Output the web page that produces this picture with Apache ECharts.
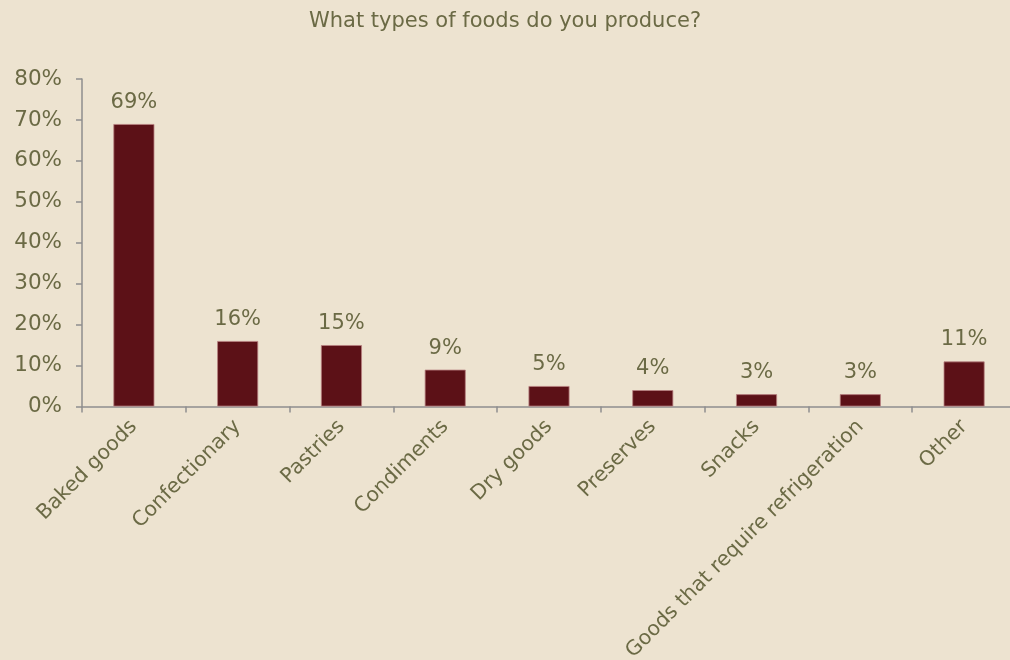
<!DOCTYPE html>
<html>
<head>
<meta charset="utf-8">
<style>
  html, body { margin: 0; padding: 0; background: #EDE3D0; }
  #chart { width: 1010px; height: 660px; }
</style>
<script src="https://cdn.jsdelivr.net/npm/echarts@6/dist/echarts.min.js"></script>
</head>
<body>
<div id="chart"></div>
<script>
// Survey answers: share of respondents producing each food type
const categories = [
  'Baked goods', 'Confectionary', 'Pastries', 'Condiments', 'Dry goods',
  'Preserves', 'Snacks', 'Goods that require refrigeration', 'Other'
];
const shares = [69, 16, 15, 9, 5, 4, 3, 3, 11];
const yTicks = { min: 0, max: 80, interval: 10 };

const textColor = '#6B6A45';
const axisColor = '#8E8E8E';
const font = 'DejaVu Sans';

const chart = echarts.init(document.getElementById('chart'), null, { renderer: 'canvas' });
chart.setOption({
  backgroundColor: '#EDE3D0',
  animation: false,
  title: {
    text: 'What types of foods do you produce?',
    left: 'center',
    top: 6,
    textStyle: { color: textColor, fontFamily: font, fontSize: 21, fontWeight: 'normal' }
  },
  // plot area runs slightly past the right edge of the canvas
  grid: {
    left: 82, width: 934, top: 79, bottom: 253.5,
    containLabel: false, outerBoundsMode: 'none'
  },
  xAxis: {
    type: 'category',
    data: categories,
    axisLine: { show: true, lineStyle: { color: axisColor, width: 1.5 } },
    axisTick: { show: true, alignWithLabel: false, length: 6, lineStyle: { color: axisColor, width: 1.5 } },
    axisLabel: {
      rotate: 45,
      interval: 0,
      margin: 17,
      color: textColor,
      fontFamily: font,
      fontSize: 20.5
    }
  },
  yAxis: {
    type: 'value',
    min: yTicks.min,
    max: yTicks.max,
    interval: yTicks.interval,
    splitLine: { show: false },
    axisLine: { show: true, lineStyle: { color: axisColor, width: 1.5 } },
    axisTick: { show: true, length: 6, lineStyle: { color: axisColor, width: 1.5 } },
    axisLabel: {
      formatter: '{value}%',
      margin: 20,
      color: textColor,
      fontFamily: font,
      fontSize: 21.5
    }
  },
  series: [{
    type: 'bar',
    data: shares,
    barWidth: '39.5%',
    itemStyle: { color: '#5C1117', borderColor: '#B88080', borderWidth: 0.8 },
    label: {
      show: true,
      position: 'top',
      distance: 11,
      formatter: '{c}%',
      color: textColor,
      fontFamily: font,
      fontSize: 21
    }
  }]
});
</script>
</body>
</html>
